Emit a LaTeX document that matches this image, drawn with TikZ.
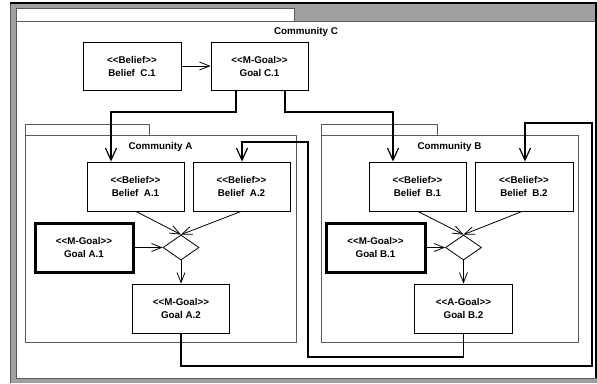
\documentclass[tikz,border=0pt]{standalone}
\usepackage{fontspec}
\setmainfont{Liberation Sans}
\usetikzlibrary{arrows.meta,shapes.geometric}
\definecolor{framegray}{RGB}{160,160,160}
\definecolor{pkgline}{RGB}{90,90,90}
\tikzset{
  box/.style={draw=black, line width=0.9pt, fill=white, minimum width=97pt, minimum height=49pt, inner sep=0pt, align=center, font=\fontsize{9.8}{13}\selectfont\bfseries},
  thickbox/.style={box, line width=3pt},
  dia/.style={diamond, draw=black, line width=0.8pt, fill=white, minimum width=36pt, minimum height=25pt, inner sep=0pt, aspect=1.44},
  conn/.style={draw=black, line width=1.7pt, -{Straight Barb[length=12pt,width=11pt,line width=1.2pt]}},
  thin/.style={draw=black, line width=0.8pt, -{Straight Barb[length=10pt,width=8pt]}},
  pkg/.style={draw=pkgline, line width=1pt, fill=white},
  pkglabel/.style={font=\fontsize{9.8}{11}\selectfont\bfseries, inner sep=0pt}
}
\begin{document}
\begin{tikzpicture}[x=1pt,y=-1pt]
\useasboundingbox (0,0) rectangle (597,383);
\fill[white] (0,0) rectangle (597,383);
% window frame
\fill[framegray] (10,2) rectangle (597,383);
\draw[pkgline, line width=1pt] (10.5,2) -- (10.5,383);
\draw[black, line width=2pt] (10,2.5) -- (597,2.5);
% Community C
\draw[pkg] (16,8) rectangle (294,21);
\draw[pkg] (16,21) rectangle (596,378);
\draw[black, line width=1.5pt] (596,2) -- (596,378);
\node[pkglabel] (lblC) at (306,32) {Community C};
% Community A
\draw[pkg] (25,124) rectangle (149,135);
\draw[pkg] (25,135) rectangle (296,342);
\node[pkglabel] (lblA) at (160.5,147) {Community A};
% Community B
\draw[pkg] (321,124) rectangle (437,135);
\draw[pkg] (321,135) rectangle (578,342);
\node[pkglabel] (lblB) at (449.5,147) {Community B};
% nodes
\node[box, minimum width=98pt, minimum height=48pt] (bC1) at (132,66) {<{}<Belief>{}>\\Belief\ \ C.1};
\node[box, minimum height=48pt] (gC1) at (259.5,66) {<{}<M-Goal>{}>\\Goal C.1};
\node[box] (bA1) at (135.5,186.5) {<{}<Belief>{}>\\Belief\ \ A.1};
\node[box] (bA2) at (241.5,186.5) {<{}<Belief>{}>\\Belief\ \ A.2};
\node[thickbox, minimum width=98pt] (gA1) at (84,247.5) {<{}<M-Goal>{}>\\Goal A.1};
\node[dia] (dA) at (181,247.5) {};
\node[box] (gA2) at (181,308.5) {<{}<M-Goal>{}>\\Goal A.2};
\node[box] (bB1) at (417.5,186.5) {<{}<Belief>{}>\\Belief\ \ B.1};
\node[box, minimum width=98pt] (bB2) at (524,186.5) {<{}<Belief>{}>\\Belief\ \ B.2};
\node[thickbox, minimum width=99pt] (gB1) at (375.5,247.5) {<{}<M-Goal>{}>\\Goal B.1};
\node[dia] (dB) at (463.5,247.5) {};
\node[box, minimum width=98pt] (gB2) at (463.5,308.5) {<{}<A-Goal>{}>\\Goal B.2};
% connectors
\draw[thin] (bC1.east) -- (gC1.west);
\draw[conn] (gC1.south -| 236,0) |- (111,112) -- (bA1.north -| 111,0);
\draw[conn] (gC1.south -| 285,0) |- (393,112) -- (bB1.north -| 393,0);
\draw[conn] (gA2.south) |- (592,366) |- (525,123) -- (bB2.north -| 525,0);
\draw[conn] (gB2.south) |- (308,357) |- (242,142) -- (bA2.north -| 242,0);
\draw[thin] (bA1.south -| 136,0) -- (dA.north);
\draw[thin] (bA2.south -| 241,0) -- (dA.north);
\draw[thin] (gA1.east) -- (dA.west);
\draw[thin] (dA.south) -- (gA2.north);
\draw[thin] (bB1.south -| 418,0) -- (dB.north);
\draw[thin] (bB2.south -| 522,0) -- (dB.north);
\draw[thin] (gB1.east) -- (dB.west);
\draw[thin] (dB.south) -- (gB2.north);
\end{tikzpicture}
\end{document}
